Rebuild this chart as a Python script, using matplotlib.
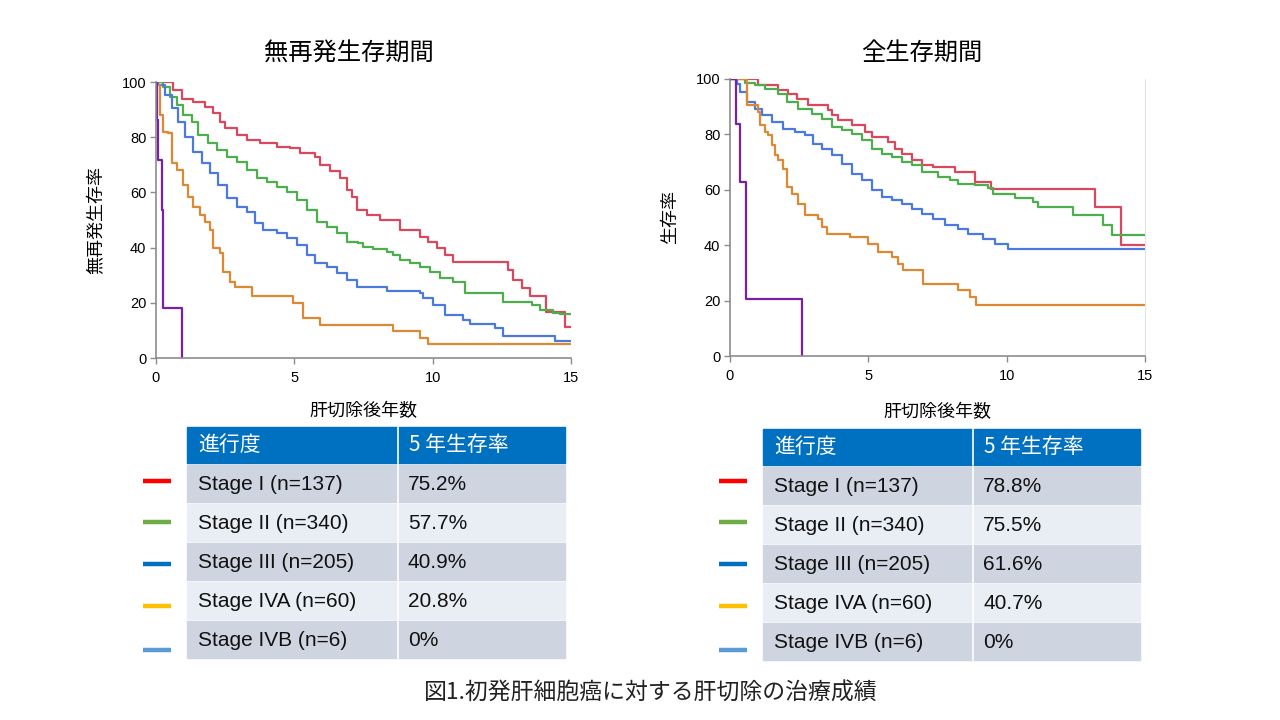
import numpy as np
import matplotlib
matplotlib.use('Agg')
import matplotlib.pyplot as plt
from matplotlib.patches import Rectangle

plt.rcParams['font.family'] = ['Liberation Sans', 'Noto Sans CJK JP', 'DejaVu Sans']
JP = ['Noto Sans CJK JP', 'DejaVu Sans']

# ---- data ----
stages = ['Stage I (n=137)', 'Stage II (n=340)', 'Stage III (n=205)',
          'Stage IVA (n=60)', 'Stage IVB (n=6)']
rfs_5yr = ['75.2%', '57.7%', '40.9%', '20.8%', '0%']
os_5yr = ['78.8%', '75.5%', '61.6%', '40.7%', '0%']

# recurrence-free survival, step curves (years, %)
rfs_t = {
    'I': [0, 0.39, 0.63, 0.93, 1.35, 1.77, 2.07, 2.31, 2.49, 2.92, 3.28, 3.76, 4.36, 4.84, 5.2,
          5.75, 5.93, 6.29, 6.65, 6.89, 7.07, 7.25, 7.61, 8.1, 8.82, 9.54, 9.84, 10.15, 10.45,
          10.75, 12.73, 12.92, 13.22, 13.52, 14.1, 14.79, 15],
    'II': [0, 0.26, 0.5, 0.75, 0.99, 1.29, 1.53, 1.89, 2.19, 2.56, 2.92, 3.28, 3.64, 4.0, 4.36,
           4.72, 5.09, 5.45, 5.81, 6.17, 6.53, 6.89, 7.31, 7.49, 7.85, 8.34, 8.58, 8.82, 9.18,
           9.54, 9.9, 10.27, 10.75, 11.17, 12.55, 13.58, 13.88, 14.36, 14.6, 15],
    'III': [0, 0.08, 0.33, 0.57, 0.81, 1.05, 1.35, 1.65, 1.95, 2.25, 2.56, 2.92, 3.28, 3.58,
            3.88, 4.36, 4.72, 5.09, 5.45, 5.75, 6.17, 6.53, 6.89, 7.25, 8.34, 9.54, 9.66, 10.02,
            10.45, 11.11, 11.35, 12.25, 12.55, 14.42, 15],
    'IVA': [0, 0.02, 0.14, 0.27, 0.45, 0.57, 0.75, 0.99, 1.17, 1.35, 1.59, 1.77, 1.95, 2.07,
            2.31, 2.43, 2.67, 2.86, 3.46, 4.96, 5.32, 5.93, 8.58, 9.54, 9.84, 15],
    'IVB': [0, 0.02, 0.08, 0.2, 0.25, 0.27, 0.93],
}
rfs_s = {
    'I': [100, 100, 97.1, 93.8, 92.9, 91.1, 88.7, 85.6, 83.2, 80.8, 79, 77.8, 76.6, 76, 74.2,
          73, 70, 67.6, 65.1, 60.9, 58.5, 53.6, 51.8, 50, 46.4, 44, 42.2, 39.7, 37.3,
          34.7, 31.9, 28.3, 25.3, 22.3, 16.8, 11.1, 11.1],
    'II': [100, 98.3, 94.7, 91.7, 88, 85.6, 80.8, 77.8, 75.4, 73, 70.9, 68.1, 65.1, 63.9, 62.1,
           60.3, 57.2, 53.6, 49.4, 47.6, 45.2, 42.1, 41.5, 40.3, 39.5, 38.5, 37.3, 35.5, 34.3,
           33.1, 31.3, 28.9, 27.7, 23.6, 20.4, 19.2, 17.4, 16.2, 15.8, 15.8],
    'III': [100, 98.9, 95.3, 90.5, 85.6, 80.2, 74.7, 70.5, 66.9, 62.6, 57.8, 54.8, 53, 48.8,
            46.4, 45.2, 43.4, 41, 37.3, 34.3, 33.1, 30.7, 28.3, 25.9, 24.1, 23.5, 21.7, 19.3,
            15.7, 13.9, 12.3, 10.9, 7.9, 6.1, 6.1],
    'IVA': [100, 98.9, 88, 82, 81.4, 70.5, 68.1, 62.6, 58.4, 54.8, 51.8, 49.4, 46.4, 39.7,
            37.9, 31.3, 27.7, 25.9, 22.3, 19.9, 14.5, 12.1, 9.7, 7.3, 4.9, 4.9],
    'IVB': [100, 86.2, 71.7, 53.6, 36, 18, 0],
}

# overall survival, step curves (years, %)
os_t = {
    'I': [0, 1.02, 1.75, 2.11, 2.41, 2.83, 3.55, 3.68, 3.92, 4.4, 4.88, 5.12, 5.72, 5.96, 6.2,
          6.57, 6.93, 7.35, 8.13, 8.86, 9.45, 13.19, 14.13, 15],
    'II': [0, 0.54, 0.9, 1.27, 1.75, 2.05, 2.47, 2.95, 3.31, 3.68, 4.04, 4.4, 4.76, 5.12, 5.48,
           5.84, 6.2, 6.57, 6.93, 7.53, 7.95, 8.25, 8.86, 9.34, 9.52, 10.3, 10.96, 11.14, 12.41,
           13.49, 13.8, 15],
    'III': [0, 0.24, 0.36, 0.6, 0.9, 1.14, 1.51, 1.93, 2.35, 2.71, 3.01, 3.31, 3.68, 4.04, 4.4,
            4.76, 5.12, 5.48, 5.84, 6.2, 6.57, 6.93, 7.35, 7.77, 8.25, 8.61, 9.16, 9.58, 10.06,
            15],
    'IVA': [0, 0.54, 0.6, 1.02, 1.08, 1.27, 1.39, 1.51, 1.63, 1.75, 1.93, 2.05, 2.23, 2.47,
            2.71, 3.19, 3.31, 3.49, 4.34, 5.0, 5.36, 5.84, 6.08, 6.27, 6.99, 8.25, 8.67, 8.88,
            15],
    'IVB': [0, 0.2, 0.36, 0.57, 2.61],
}
os_s = {
    'I': [100, 97.7, 95.9, 94.7, 92.9, 90.5, 88.7, 86.9, 85.1, 83.3, 80.9, 79.1, 77.3, 74.8, 73,
          70.6, 68.8, 68.2, 66.4, 62.8, 60.4, 53.8, 40.2, 40.2],
    'II': [100, 98.6, 97.7, 96.5, 94.7, 91.7, 89.3, 87.5, 85.7, 82.7, 81.5, 80.3, 77.9, 74.8, 73,
           71.8, 70, 68.8, 66.4, 64.6, 63.4, 62.2, 61.6, 60.6, 58.6, 57, 55.6, 53.8, 50.8,
           47.4, 43.8, 43.8],
    'III': [100, 98.2, 95.3, 91.7, 89.3, 86.9, 84.5, 82.1, 80.9, 79.7, 76.6, 74.8, 72.5, 69.4,
            65.8, 63.4, 59.8, 57.4, 56.2, 55, 53.2, 51.4, 49.6, 47.2, 46, 44.2, 42.4, 40.5, 38.5,
            38.5],
    'IVA': [100, 100, 90.5, 88.1, 83.3, 80.9, 79.7, 76.1, 72.5, 70.6, 67.6, 61, 58.6, 55,
            50.8, 49.6, 46.6, 44.2, 43, 40.5, 37.5, 35.7, 33.3, 30.9, 26.1, 23.7, 21.3, 18.5,
            18.5],
    'IVB': [100, 83.9, 62.8, 20.7, 0],
}

order = ['I', 'II', 'III', 'IVA', 'IVB']
curve_colors = {'I': '#d9485c', 'II': '#4cae4c', 'III': '#4a7ade', 'IVA': '#dd8833', 'IVB': '#7a1fa8'}
legend_colors = ['#ff0000', '#70ad47', '#0070c0', '#ffc000', '#5b9bd5']

fig = plt.figure(figsize=(12.8, 7.2), dpi=100)
W, H = 1280, 720


def make_axes(left, top, right, bottom):
    return fig.add_axes([left / W, 1 - bottom / H, (right - left) / W, (bottom - top) / H])


def style(ax, right_spine):
    ax.set_xlim(0, 15)
    ax.set_ylim(0, 100)
    ax.set_xticks([0, 5, 10, 15])
    ax.set_yticks([0, 20, 40, 60, 80, 100])
    for s in ['left', 'bottom']:
        ax.spines[s].set_color('#8c8c8c')
        ax.spines[s].set_linewidth(1.2)
    ax.spines['top'].set_visible(False)
    if right_spine:
        ax.spines['right'].set_color('#e4e4e4')
    else:
        ax.spines['right'].set_visible(False)
    ax.tick_params(axis='both', direction='out', length=4, width=1, color='#8c8c8c',
                   labelsize=10.5, pad=3)
    ax.tick_params(axis='x', pad=5)


ax1 = make_axes(156, 82, 571, 358)
for k in order:
    ax1.step(rfs_t[k], rfs_s[k], where='post', color=curve_colors[k], lw=1.6)
style(ax1, False)
ax1.set_title('無再発生存期間', family=JP, fontsize=17.5, pad=16, x=0.465)
ax1.set_xlabel('肝切除後年数', family=JP, fontsize=13, labelpad=13)
ax1.set_ylabel('無再発生存率', family=JP, fontsize=13, labelpad=12)

ax2 = make_axes(730, 79, 1145, 356)
for k in order:
    ax2.step(os_t[k], os_s[k], where='post', color=curve_colors[k], lw=1.6)
style(ax2, True)
ax2.set_title('全生存期間', family=JP, fontsize=17.5, pad=14, x=0.463)
ax2.set_xlabel('肝切除後年数', family=JP, fontsize=13, labelpad=15)
ax2.set_ylabel('生存率', family=JP, fontsize=13, labelpad=12)

# overlay for the tables and caption, pixel coordinates
ov = fig.add_axes([0, 0, 1, 1])
ov.set_xlim(0, W)
ov.set_ylim(H, 0)
ov.axis('off')


def draw_table(x0, x1, xdiv, ytop, values, dash_x0):
    hh = 36
    ov.add_patch(Rectangle((x0, ytop), x1 - x0, hh, color='#0070c0'))
    ov.plot([xdiv, xdiv], [ytop, ytop + hh], color='white', lw=1.2)
    ov.text(x0 + 11, ytop + hh / 2, '進行度', family=JP, fontsize=15, color='white', va='center')
    ov.text(xdiv + 11, ytop + hh / 2, '5 年生存率', family=JP, fontsize=15, color='white', va='center')
    rh = 39
    y = ytop + hh + 2
    for i, (st, v) in enumerate(zip(stages, values)):
        c = '#cfd5e0' if i % 2 == 0 else '#e9edf4'
        ov.add_patch(Rectangle((x0, y), x1 - x0, rh - 2, color=c))
        ov.plot([xdiv, xdiv], [y, y + rh - 2], color='white', lw=1.2)
        ov.text(x0 + 11, y + (rh - 2) / 2 + 1, st, fontsize=15, va='center', color='#111111')
        ov.text(xdiv + 10, y + (rh - 2) / 2 + 1, v, fontsize=15, va='center', color='#111111')
        y += rh
    dash_y = [481, 522, 564, 606, 650]
    for dy, col in zip(dash_y, legend_colors):
        ov.plot([dash_x0, dash_x0 + 28], [dy, dy], color=col, lw=3.2, solid_capstyle='butt')


draw_table(187, 565, 398, 427, rfs_5yr, 143)
draw_table(763, 1140, 973, 429, os_5yr, 719)

ov.text(651, 693, '図1.初発肝細胞癌に対する肝切除の治療成績', family=JP, fontsize=16.5,
        ha='center', va='center', color='#222222')

fig.savefig('out.png', dpi=100)
